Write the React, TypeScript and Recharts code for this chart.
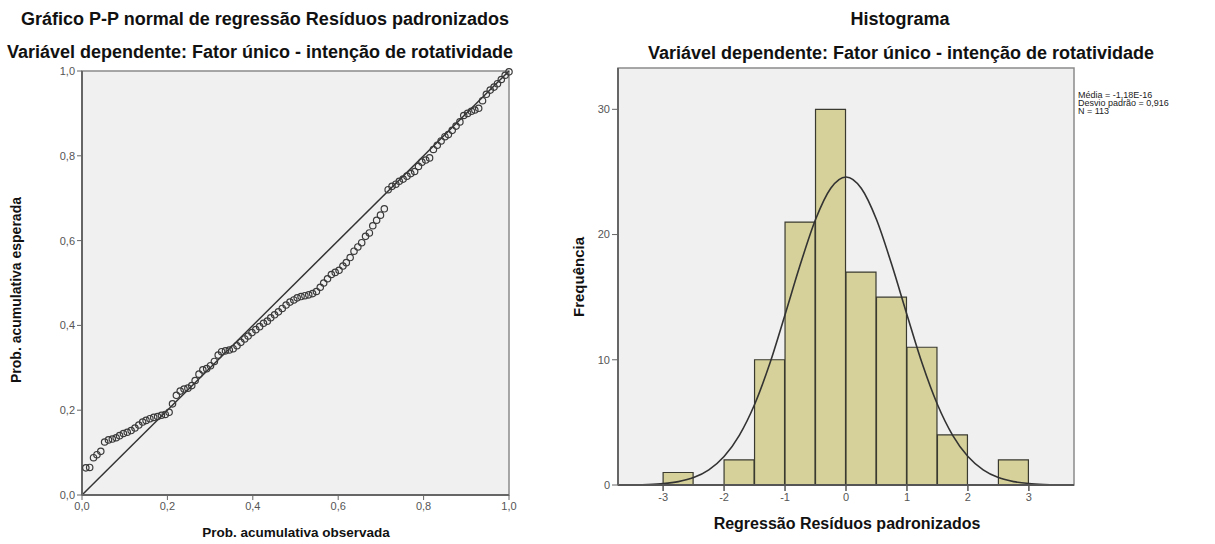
import React from 'react';
import {
  ComposedChart,
  Scatter,
  Line,
  Bar,
  XAxis,
  YAxis,
  CartesianGrid,
  ReferenceArea,
} from 'recharts';

const ppObserved = [
  0.009, 0.018, 0.027, 0.035, 0.044, 0.053, 0.062, 0.071, 0.08, 0.088,
  0.097, 0.106, 0.115, 0.124, 0.133, 0.142, 0.15, 0.159, 0.168, 0.177,
  0.186, 0.195, 0.204, 0.212, 0.221, 0.23, 0.239, 0.248, 0.257, 0.265,
  0.274, 0.283, 0.292, 0.301, 0.31, 0.319, 0.327, 0.336, 0.345, 0.354,
  0.363, 0.372, 0.381, 0.389, 0.398, 0.407, 0.416, 0.425, 0.434, 0.442,
  0.451, 0.46, 0.469, 0.478, 0.487, 0.496, 0.504, 0.513, 0.522, 0.531,
  0.54, 0.549, 0.558, 0.566, 0.575, 0.584, 0.593, 0.602, 0.611, 0.619,
  0.628, 0.637, 0.646, 0.655, 0.664, 0.673, 0.681, 0.69, 0.699, 0.708,
  0.717, 0.726, 0.735, 0.743, 0.752, 0.761, 0.77, 0.779, 0.788, 0.796,
  0.805, 0.814, 0.823, 0.832, 0.841, 0.85, 0.858, 0.867, 0.876, 0.885,
  0.894, 0.903, 0.912, 0.92, 0.929, 0.938, 0.947, 0.956, 0.965, 0.973,
  0.982, 0.991, 1.0,
];
const ppExpected = [
  0.064, 0.065, 0.088, 0.095, 0.103, 0.125, 0.13, 0.132, 0.135, 0.14,
  0.145, 0.148, 0.152, 0.158, 0.165, 0.172, 0.176, 0.18, 0.183, 0.185,
  0.188, 0.19, 0.195, 0.215, 0.235, 0.245, 0.25, 0.252, 0.258, 0.27,
  0.285, 0.295, 0.298, 0.305, 0.315, 0.33, 0.338, 0.34, 0.342, 0.345,
  0.352, 0.36, 0.368, 0.375, 0.383, 0.39, 0.397, 0.405, 0.41, 0.418,
  0.425, 0.432, 0.44, 0.448, 0.455, 0.46, 0.465, 0.468, 0.47, 0.472,
  0.475, 0.48, 0.49, 0.5, 0.51, 0.52, 0.525, 0.53, 0.54, 0.548,
  0.56, 0.575, 0.585, 0.595, 0.61, 0.618, 0.635, 0.648, 0.66, 0.675,
  0.72, 0.728, 0.733, 0.74, 0.745, 0.752, 0.758, 0.763, 0.775, 0.785,
  0.79, 0.795, 0.815, 0.825, 0.835, 0.845, 0.85, 0.86, 0.87, 0.88,
  0.895, 0.9, 0.905, 0.908, 0.912, 0.93, 0.945, 0.955, 0.962, 0.97,
  0.98, 0.99, 0.998,
];
const diagX = [0, 1];
const ppTicks = [0, 0.2, 0.4, 0.6, 0.8, 1];

// Histogram of standardized residuals (bin width 0.5)
const binMid = [-2.75, -2.25, -1.75, -1.25, -0.75, -0.25, 0.25, 0.75, 1.25, 1.75, 2.25, 2.75];
const binCount = [1, 0, 2, 10, 21, 30, 17, 15, 11, 4, 0, 2];
const curveX = [
  -3.75, -3.5, -3.25, -3, -2.75, -2.5, -2.25, -2, -1.75, -1.5, -1.25, -1, -0.75, -0.5, -0.25,
  0, 0.25, 0.5, 0.75, 1, 1.25, 1.5, 1.75, 2, 2.25, 2.5, 2.75, 3, 3.25, 3.5, 3.75,
];
const curveY = [
  0.006, 0.017, 0.045, 0.115, 0.27, 0.59, 1.21, 2.27, 3.97, 6.43, 9.7, 13.6, 17.6, 21.2, 23.7,
  24.6, 23.7, 21.2, 17.6, 13.6, 9.7, 6.43, 3.97, 2.27, 1.21, 0.59, 0.27, 0.115, 0.045, 0.017, 0.006,
];
const histXTicks = [-3, -2, -1, 0, 1, 2, 3];
const histYTicks = [0, 10, 20, 30];
const statsLines = ['Média = -1,18E-16', 'Desvio padrão = 0,916', 'N = 113'];

const ppData = ppObserved.map((x, i) => ({ x, y: ppExpected[i] }));
const diagData = diagX.map((x) => ({ x, y: x }));
const histData = binMid.map((mid, i) => ({ mid, count: binCount[i] }));
const curveData = curveX.map((x, i) => ({ x, dens: curveY[i] }));

const FONT = '"Liberation Sans", Arial, sans-serif';
const tickStyle = { fill: '#555', fontSize: 11, fontFamily: FONT };
const comma = (v: number) => v.toFixed(1).replace('.', ',');

const Ring = (props: any) => {
  const { cx, cy } = props;
  return <circle cx={cx} cy={cy} r={3.2} fill="none" stroke="#3a3a3a" strokeWidth={1.2} />;
};

const abs = (s: React.CSSProperties): React.CSSProperties => ({
  position: 'absolute',
  fontFamily: FONT,
  color: '#111',
  whiteSpace: 'nowrap',
  ...s,
});

export default function App() {
  return (
    <div style={{ position: 'absolute', left: 0, top: 0, width: 1215, height: 544, background: '#fff', overflow: 'hidden' }}>
      {/* left: P-P plot */}
      <div style={abs({ left: 0, top: 9, width: 530, textAlign: 'center', fontSize: 18, fontWeight: 'bold', lineHeight: '20px' })}>
        Gráfico P-P normal de regressão Resíduos padronizados
      </div>
      <div style={abs({ left: 0, top: 42, width: 520, textAlign: 'center', fontSize: 18, fontWeight: 'bold', lineHeight: '20px' })}>
        Variável dependente: Fator único - intenção de rotatividade
      </div>
      <div style={{ position: 'absolute', left: 0, top: 0 }}>
        <ComposedChart width={530} height={544} margin={{ top: 71, right: 21, bottom: 19, left: 0 }}>
          <CartesianGrid fill="#f0f0f0" horizontal={false} vertical={false} />
          <ReferenceArea x1={0} x2={1} y1={0} y2={1} fill="none" stroke="#8a8a8a" strokeWidth={1.5} />
          <XAxis
            dataKey="x"
            type="number"
            domain={[0, 1]}
            ticks={ppTicks}
            tickFormatter={comma}
            tick={tickStyle}
            tickSize={5}
            height={30}
            axisLine={{ stroke: '#666', strokeWidth: 2 }}
            tickLine={{ stroke: '#666' }}
          />
          <YAxis
            dataKey="y"
            type="number"
            domain={[0, 1]}
            ticks={ppTicks}
            tickFormatter={comma}
            tick={tickStyle}
            tickSize={5}
            width={82}
            axisLine={{ stroke: '#666', strokeWidth: 2 }}
            tickLine={{ stroke: '#666' }}
          />
          <Line data={diagData} dataKey="y" type="linear" stroke="#333" strokeWidth={1.5} dot={false} isAnimationActive={false} />
          <Scatter data={ppData} dataKey="y" shape={<Ring />} isAnimationActive={false} />
        </ComposedChart>
      </div>
      <div style={abs({ left: 16, top: 290, fontSize: 14, fontWeight: 'bold', transform: 'translate(-50%, -50%) rotate(-90deg)' })}>
        Prob. acumulativa esperada
      </div>
      <div style={abs({ left: 296, top: 532, fontSize: 13.5, fontWeight: 'bold', transform: 'translate(-50%, -50%)' })}>
        Prob. acumulativa observada
      </div>

      {/* right: histogram */}
      <div style={abs({ left: 650, top: 9, width: 500, textAlign: 'center', fontSize: 18, fontWeight: 'bold', lineHeight: '20px' })}>
        Histograma
      </div>
      <div style={abs({ left: 648, top: 43, width: 500, textAlign: 'center', fontSize: 18, fontWeight: 'bold', lineHeight: '20px' })}>
        Variável dependente: Fator único - intenção de rotatividade
      </div>
      <div style={{ position: 'absolute', left: 540, top: 0 }}>
        <ComposedChart
          width={675}
          height={544}
          data={histData}
          margin={{ top: 68, right: 141, bottom: 29, left: 0 }}
          barCategoryGap={0}
          barGap={0}
        >
          <CartesianGrid fill="#f0f0f0" horizontal={false} vertical={false} />
          <ReferenceArea xAxisId="bins" x1={-3.74} x2={3.74} y1={0} y2={33.3} fill="none" stroke="#8a8a8a" strokeWidth={1.5} />
          <XAxis
            xAxisId="bins"
            dataKey="mid"
            type="number"
            domain={[-3.74, 3.74]}
            ticks={histXTicks}
            allowDataOverflow
            tick={tickStyle}
            tickSize={6}
            height={30}
            axisLine={{ stroke: '#555', strokeWidth: 2 }}
            tickLine={{ stroke: '#555', strokeWidth: 1.5 }}
          />
          <XAxis xAxisId="curve" dataKey="x" type="number" domain={[-3.74, 3.74]} allowDataOverflow hide />
          <YAxis
            type="number"
            domain={[0, 33.3]}
            ticks={histYTicks}
            allowDataOverflow
            tick={tickStyle}
            tickSize={6}
            width={78}
            axisLine={{ stroke: '#666', strokeWidth: 2 }}
            tickLine={{ stroke: '#666' }}
          />
          <Bar
            xAxisId="bins"
            dataKey="count"
            fill="#d6d19a"
            stroke="#3a3a30"
            strokeWidth={1.2}
            isAnimationActive={false}
          />
          <Line
            xAxisId="curve"
            data={curveData}
            dataKey="dens"
            type="monotone"
            stroke="#333"
            strokeWidth={1.6}
            dot={false}
            isAnimationActive={false}
          />
        </ComposedChart>
      </div>
      <div style={abs({ left: 1078, top: 91, fontSize: 9, lineHeight: '8px', color: '#222' })}>
        {statsLines.map((s) => (
          <div key={s}>{s}</div>
        ))}
      </div>
      <div style={abs({ left: 578, top: 277, fontSize: 15, fontWeight: 'bold', transform: 'translate(-50%, -50%) rotate(-90deg)' })}>
        Frequência
      </div>
      <div style={abs({ left: 847, top: 524, fontSize: 16, fontWeight: 'bold', transform: 'translate(-50%, -50%)' })}>
        Regressão Resíduos padronizados
      </div>
    </div>
  );
}
